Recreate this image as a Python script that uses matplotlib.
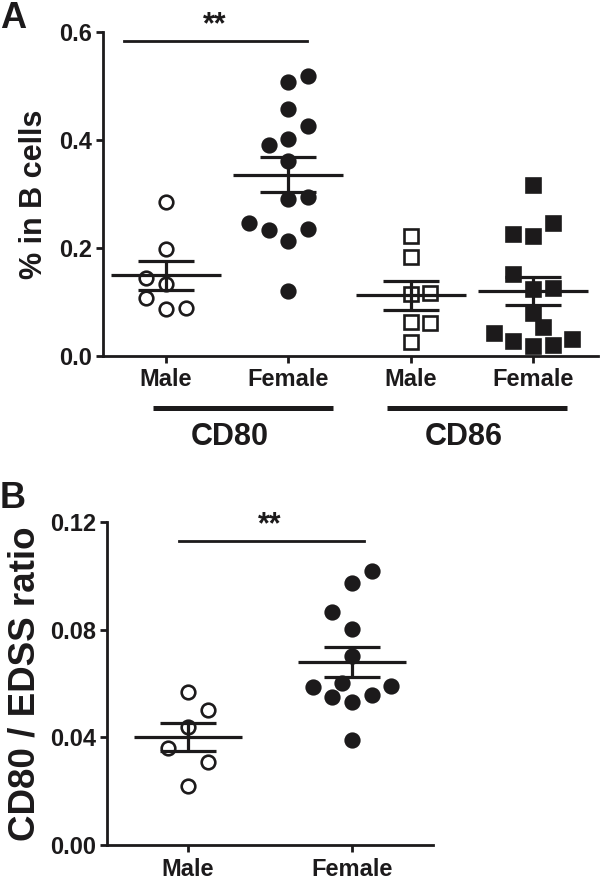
import numpy as np
import matplotlib
matplotlib.use("Agg")
import matplotlib.pyplot as plt

plt.rcParams['font.family'] = ['Liberation Sans', 'DejaVu Sans']
plt.rcParams['font.weight'] = 'bold'

# ---------------- data ----------------
tick_labels_a = ["Male", "Female", "Male", "Female"]
group_labels_a = ["CD80", "CD86"]
tick_labels_b = ["Male", "Female"]

cd80_male = [0.285, 0.198, 0.145, 0.134, 0.108, 0.087, 0.088]
cd80_male_slot = [0, 0, -1, 0, -1, 0, 1]
cd80_female = [0.508, 0.518, 0.457, 0.426, 0.391, 0.402, 0.362, 0.290, 0.294,
               0.247, 0.233, 0.235, 0.213, 0.121]
cd80_female_slot = [0, 1, 0, 1, -1, 0, 0, 0, 1, -2, -1, 1, 0, 0]
cd86_male = [0.223, 0.183, 0.115, 0.117, 0.063, 0.061, 0.026]
cd86_male_slot = [0, 0, 0, 1, 0, 1, 0]
cd86_female = [0.316, 0.247, 0.226, 0.223, 0.151, 0.125, 0.126, 0.080, 0.054,
               0.043, 0.028, 0.019, 0.020, 0.031]
cd86_female_slot = [0, 1, -1, 0, -1, 0, 1, 0, 0.5, -2, -1, 0, 1, 2]

ratio_male = [0.057, 0.050, 0.044, 0.036, 0.031, 0.022]
ratio_male_slot = [0, 1, 0, -1, 1, 0]
ratio_female = [0.1018, 0.0972, 0.0864, 0.0802, 0.0702, 0.0601, 0.0586, 0.0591,
                0.0549, 0.0557, 0.0531, 0.039]
ratio_female_slot = [1, 0, -1, 0, 0, -0.5, -2, 2, -1, 1, 0, 0]

sig_label = "**"

# ---------------- style ----------------
INK = "#1c1a1b"
fig = plt.figure(figsize=(6.0, 8.85), dpi=100)

MS = 9.8          # marker size (pt)
MEW = 1.9


def draw_group(ax, pos, vals, slots, slot_w, marker, filled, mean_hw, sem_hw):
    vals = np.asarray(vals, float)
    xs = pos + np.asarray(slots, float) * slot_w
    ax.plot(xs, vals, linestyle='none', marker=marker, markersize=MS,
            markerfacecolor=INK if filled else 'white', markeredgecolor=INK,
            markeredgewidth=MEW, zorder=3, clip_on=False)
    m = vals.mean()
    sem = vals.std(ddof=1) / np.sqrt(len(vals))
    lw = 2.3
    ax.plot([pos - mean_hw, pos + mean_hw], [m, m], color=INK, lw=lw, zorder=4,
            solid_capstyle='butt')
    for v in (m - sem, m + sem):
        ax.plot([pos - sem_hw, pos + sem_hw], [v, v], color=INK, lw=lw, zorder=4,
                solid_capstyle='butt')
    ax.plot([pos, pos], [m - sem, m + sem], color=INK, lw=lw, zorder=4,
            solid_capstyle='butt')


def style_axes(ax):
    for s in ('top', 'right'):
        ax.spines[s].set_visible(False)
    for s in ('left', 'bottom'):
        ax.spines[s].set_linewidth(2.0)
        ax.spines[s].set_color(INK)
    ax.tick_params(axis='both', direction='out', length=5, width=2.0,
                   color=INK, labelcolor=INK, labelsize=17, pad=3)


# ---------------- Panel A ----------------
axA = fig.add_axes([103 / 600, 1 - 356 / 885, 495 / 600, 324 / 885])
style_axes(axA)
axA.set_xlim(0.485, 4.531)
axA.set_ylim(0, 0.6)
axA.set_yticks([0.0, 0.2, 0.4, 0.6])
axA.set_yticklabels(["0.0", "0.2", "0.4", "0.6"])
axA.set_xticks([1, 2, 3, 4])
axA.set_xticklabels(tick_labels_a)
axA.tick_params(axis='x', pad=4)
for lab in axA.get_xticklabels() + axA.get_yticklabels():
    lab.set_fontweight('bold')

slotA = 0.161
draw_group(axA, 1, cd80_male, cd80_male_slot, slotA, 'o', False, 0.45, 0.23)
draw_group(axA, 2, cd80_female, cd80_female_slot, slotA, 'o', True, 0.45, 0.23)
draw_group(axA, 3, cd86_male, cd86_male_slot, slotA, 's', False, 0.45, 0.23)
draw_group(axA, 4, cd86_female, cd86_female_slot, slotA, 's', True, 0.45, 0.23)

axA.set_ylabel("% in B cells", fontsize=22, fontweight='bold', color=INK,
               labelpad=7)

# significance bar
axA.plot([0.657, 2.153], [0.584, 0.584], color=INK, lw=2.0, clip_on=False)
axA.text(1.40, 0.585, sig_label, ha='center', va='bottom', fontsize=22,
         fontweight='bold', color=INK)

# group bars below axis
yb = -(408 - 356) / 540
for (x0, x1), lab, xc in zip([(0.894, 2.365), (2.807, 4.279)], group_labels_a,
                              [1.52, 3.43]):
    axA.plot([x0, x1], [yb, yb], color=INK, lw=3.6, clip_on=False,
             solid_capstyle='butt')
    axA.text(xc, -(437 - 356) / 540, lab, ha='center', va='center',
             fontsize=22, fontweight='bold', color=INK, clip_on=False)

fig.text(13 / 600, 1 - 19 / 885, "A", ha='center', va='center', fontsize=26,
         fontweight='bold', color=INK)

# ---------------- Panel B ----------------
axB = fig.add_axes([107 / 600, 1 - 845 / 885, 326 / 600, 323 / 885])
style_axes(axB)
axB.set_xlim(0.506, 2.494)
axB.set_ylim(0, 0.12)
axB.set_yticks([0.0, 0.04, 0.08, 0.12])
axB.set_yticklabels(["0.00", "0.04", "0.08", "0.12"])
axB.set_xticks([1, 2])
axB.set_xticklabels(tick_labels_b)
axB.tick_params(axis='x', pad=4)
for lab in axB.get_xticklabels() + axB.get_yticklabels():
    lab.set_fontweight('bold')

slotB = 0.12
draw_group(axB, 1, ratio_male, ratio_male_slot, slotB, 'o', False, 0.33, 0.168)
draw_group(axB, 2, ratio_female, ratio_female_slot, slotB, 'o', True, 0.33, 0.168)

axB.set_ylabel("CD80 / EDSS ratio", fontsize=26.5, fontweight='bold', color=INK,
               labelpad=5)

axB.plot([0.945, 2.075], [0.113, 0.113], color=INK, lw=2.0, clip_on=False)
axB.text(1.50, 0.1132, sig_label, ha='center', va='bottom', fontsize=22,
         fontweight='bold', color=INK)

fig.text(13 / 600, 1 - 499 / 885, "B", ha='center', va='center', fontsize=26,
         fontweight='bold', color=INK)

fig.savefig("out.png", dpi=100, facecolor='white')
